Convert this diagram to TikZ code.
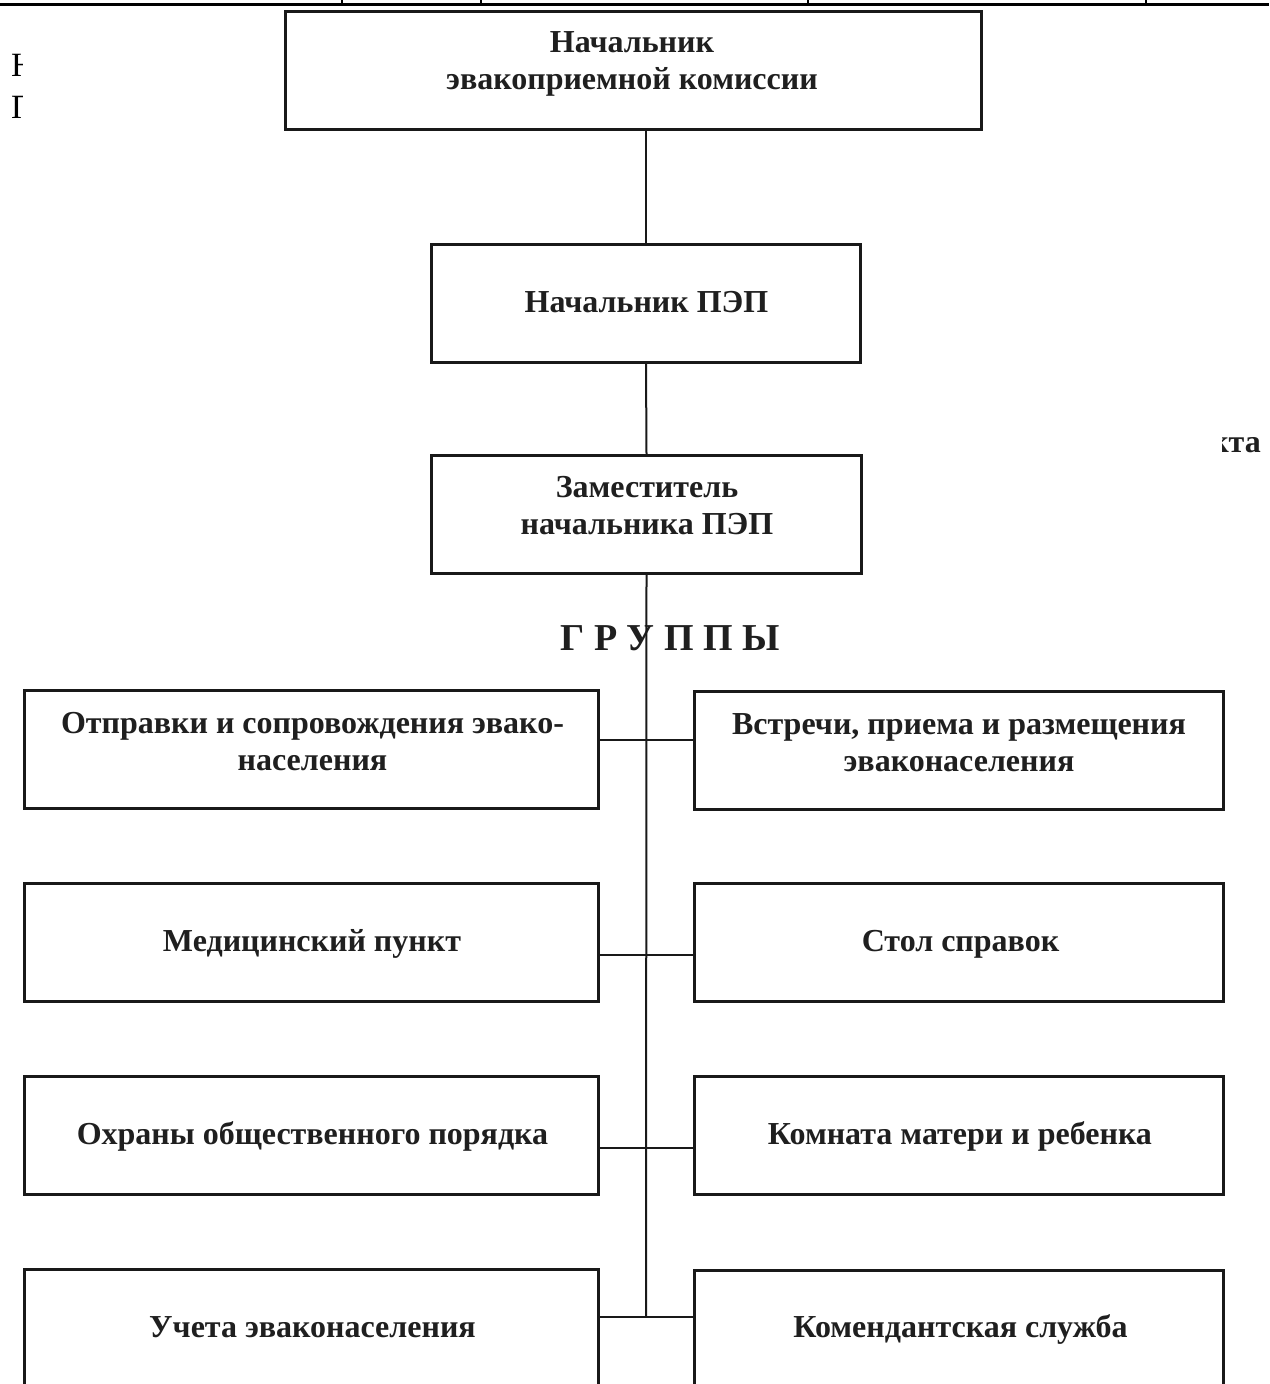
\documentclass[tikz,border=0pt]{standalone}
\usepackage{fontspec}
\setmainfont{Liberation Serif}
\begin{document}
\begin{tikzpicture}[x=1pt,y=-1pt,
  box/.style={draw=black!90, line width=3pt, inner sep=0pt, minimum height=118pt},
  lbl/.style={font=\fontsize{32}{37}\selectfont\bfseries, align=center, inner sep=0pt, text=black!88},
  frag/.style={font=\fontsize{34}{40}\selectfont, inner sep=0pt, text=black},
  conn/.style={line width=2pt, draw=black!90},
  tabline/.style={line width=1.5pt, draw=black}]
\useasboundingbox (0,0) rectangle (1269,1384);
\fill[white] (0,0) rectangle (1269,1384);
\clip (0,0) rectangle (1269,1384);
% table fragment at the top
\coordinate (tl) at (0,4);
\coordinate (tr) at (1269,4);
\draw[line width=3pt] (tl) -- (tr);
\foreach \xx in {342,481,808,1146}{\draw[tabline] (\xx,0) -- (\xx,4);}
% clipped text fragments
\begin{scope}
\clip (0,30) rectangle (22,130);
\node[frag, anchor=base west] (fragA) at (11,76) {Н};
\node[frag, anchor=base west] (fragB) at (11,118) {П};
\end{scope}
\begin{scope}
\clip (1222,410) rectangle (1269,470);
\node[lbl, anchor=base east] (fragC) at (1261,452) {кта};
\end{scope}
% boxes
\node[box, minimum width=696pt] (b1) at (633.5,70) {};
\node[box, minimum width=429pt] (b2) at (646,303.5) {};
\node[box, minimum width=430pt] (b3) at (646.5,514.5) {};
\node[box, minimum width=574pt] (L1) at (311.5,749.5) {};
\node[box, minimum width=529pt] (R1) at (959,750.5) {};
\node[box, minimum width=574pt] (L2) at (311.5,942) {};
\node[box, minimum width=529pt] (R2) at (959,942.5) {};
\node[box, minimum width=574pt] (L3) at (311.5,1135) {};
\node[box, minimum width=529pt] (R3) at (959,1135.5) {};
\node[box, minimum width=574pt] (L4) at (311.5,1328.5) {};
\node[box, minimum width=529pt] (R4) at (959,1329) {};
% labels (base = baseline of the last line)
\node[lbl, anchor=base] (t1) at (632,89) {Начальник\\эвакоприемной комиссии};
\node[lbl, anchor=base] (t2) at (646.5,312) {Начальник ПЭП};
\node[lbl, anchor=base] (t3) at (647,534) {Заместитель\\начальника ПЭП};
\node[lbl, anchor=base, font=\fontsize{38}{44}\selectfont\bfseries] (grp) at (670,650) {Г Р У П П Ы};
\node[lbl, anchor=base] (tL1) at (312.5,770) {Отправки и сопровождения эвако-\\населения};
\node[lbl, anchor=base] (tR1) at (959,771) {Встречи, приема и размещения\\эваконаселения};
\node[lbl, anchor=base] (tL2) at (312,951) {Медицинский пункт};
\node[lbl, anchor=base] (tR2) at (960.5,951) {Стол справок};
\node[lbl, anchor=base] (tL3) at (312.5,1144) {Охраны общественного порядка};
\node[lbl, anchor=base] (tR3) at (960,1144) {Комната матери и ребенка};
\node[lbl, anchor=base] (tL4) at (312.5,1337) {Учета эваконаселения};
\node[lbl, anchor=base] (tR4) at (960.5,1337) {Комендантская служба};
% connectors
\coordinate (trunkend) at (646,1317);
\draw[conn] (b1.south -| b2.north) -- (b2.north);
\draw[conn] (b2.south) -- (b3.north);
\draw[conn] (b3.south) -- (trunkend);
\draw[conn] ([yshift=9.5pt]L1.east) -- ([yshift=9.5pt]L1.east -| R1.west);
\draw[conn] ([yshift=-13pt]L2.east) -- ([yshift=-13pt]L2.east -| R2.west);
\draw[conn] ([yshift=-13pt]L3.east) -- ([yshift=-13pt]L3.east -| R3.west);
\draw[conn] ([yshift=11.5pt]L4.east) -- ([yshift=11.5pt]L4.east -| R4.west);
\end{tikzpicture}
\end{document}
